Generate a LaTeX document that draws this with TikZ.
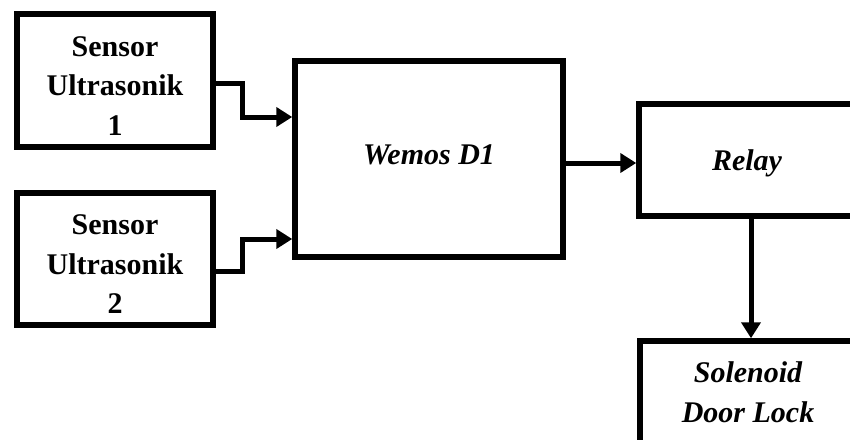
\documentclass[tikz,border=0pt]{standalone}
\usepackage{fontspec}
\setmainfont{Liberation Serif}
\usetikzlibrary{arrows.meta}
\begin{document}
\begin{tikzpicture}[x=1pt,y=-1pt,
  blk/.style={draw=black,line width=5.5pt,align=center,inner sep=0pt,
    font=\fontsize{30}{39.5}\selectfont\bfseries},
  iblk/.style={blk,font=\fontsize{30}{39.5}\selectfont\bfseries\itshape},
  arr/.style={line width=5pt,-{Triangle[length=16pt,width=19pt]}}]
\useasboundingbox (0,0) rectangle (850,439);
\clip (0,0) rectangle (850,439);
\fill[white] (0,0) rectangle (850,439);
\node[blk,minimum width=196pt,minimum height=133pt] (s1) at (115,80.5) {\rule{0pt}{30.5pt}Sensor\\Ultrasonik\\1};
\node[blk,minimum width=196pt,minimum height=132pt] (s2) at (115,259) {\rule{0pt}{30.5pt}Sensor\\Ultrasonik\\2};
\node[iblk,minimum width=268pt,minimum height=196pt] (w) at (429,159) {Wemos D1\rule[-8pt]{0pt}{0pt}};
\node[iblk,minimum width=224pt,minimum height=112pt] (r) at (751,160) {\hspace*{-8pt}\rule{0pt}{28pt}Relay};
\node[iblk,minimum width=222pt,minimum height=110pt] (s) at (751,396) {\hspace*{-6pt}Solenoid\\\hspace*{-6pt}Door Lock\rule[-8pt]{0pt}{0pt}};
\draw[arr] ([yshift=-2.5pt]s1.east) -- ++(27,0) |- ([yshift=42pt]w.west);
\draw[arr] ([yshift=-12pt]s2.east) -- ++(27,0) |- ([yshift=-80pt]w.west);
\draw[arr] ([yshift=-4pt]w.east) -- ([yshift=-4pt]w.east -| r.west);
\draw[arr] (r.south) -- (s.north);
\end{tikzpicture}
\end{document}
